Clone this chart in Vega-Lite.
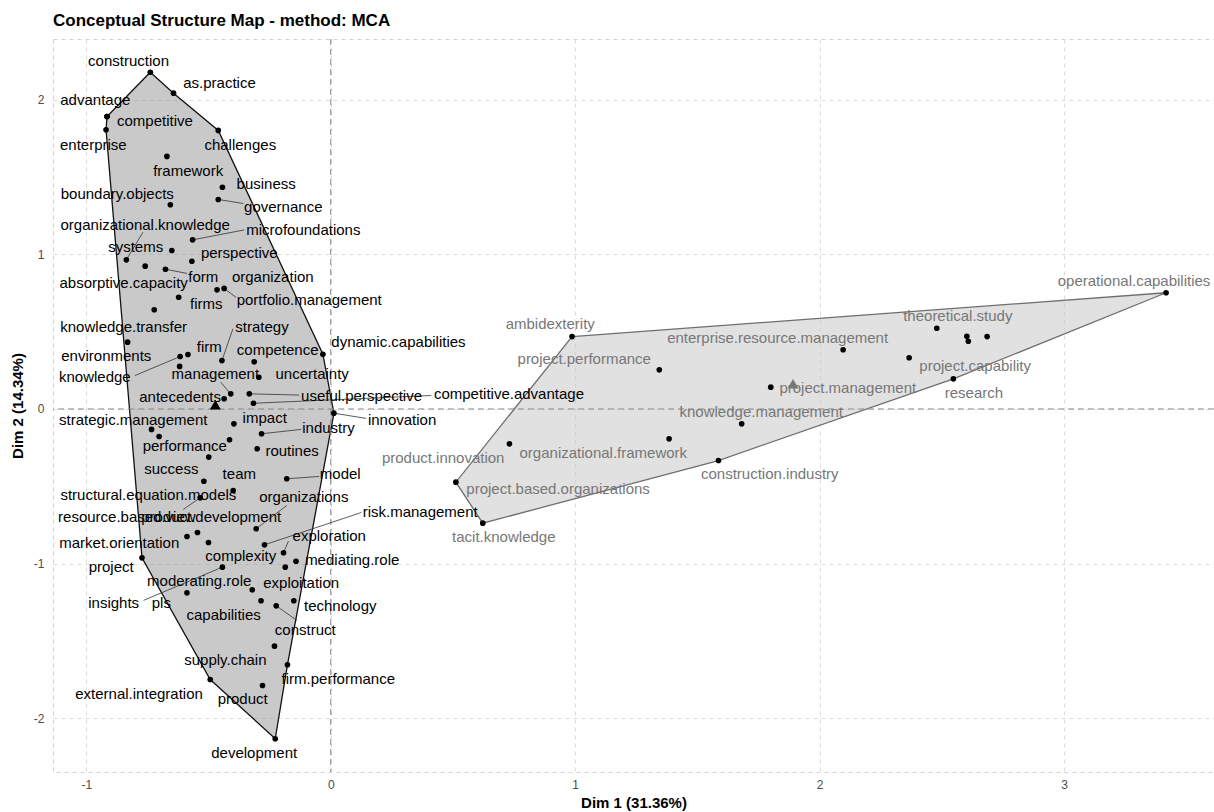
{
  "$schema": "https://vega.github.io/schema/vega-lite/v6.json",
  "autosize": "none",
  "padding": {"left": 53, "top": 39, "right": 0, "bottom": 40},
  "width": 1161,
  "height": 733,
  "background": "white",
  "title": {"text": "Conceptual Structure Map - method: MCA", "anchor": "start", "frame": "group", "fontSize": 17, "fontWeight": "bold", "color": "#000000", "font": "Liberation Sans", "offset": 9},
  "config": {
    "font": "Liberation Sans",
    "view": {"stroke": "#d4d4d4", "strokeDash": [4, 4], "strokeWidth": 1},
    "axis": {"domain": false, "ticks": false, "grid": true, "gridColor": "#dcdcdc", "gridDash": [4, 4], "gridWidth": 1, "labelFont": "Liberation Sans", "labelFontSize": 12, "labelColor": "#4d4d4d", "titleFont": "Liberation Sans", "titleFontSize": 15, "titleFontWeight": "bold", "titleColor": "#000000"},
    "axisX": {"labelPadding": 7, "titlePadding": 5},
    "axisY": {"labelPadding": 9, "titlePadding": 8}
  },
  "datasets": {
    "words": [
      {"w":"construction","c":1,"x":-0.738,"y":2.176,"lx":-0.827,"ly":2.252},
      {"w":"as.practice","c":1,"x":-0.643,"y":2.041,"lx":-0.455,"ly":2.105},
      {"w":"advantage","c":1,"x":-0.915,"y":1.890,"lx":-0.963,"ly":1.998},
      {"w":"competitive","c":1,"x":-0.915,"y":1.890,"lx":-0.719,"ly":1.858},
      {"w":"enterprise","c":1,"x":-0.919,"y":1.804,"lx":-0.971,"ly":1.707},
      {"w":"challenges","c":1,"x":-0.460,"y":1.800,"lx":-0.370,"ly":1.707},
      {"w":"framework","c":1,"x":-0.670,"y":1.632,"lx":-0.583,"ly":1.541},
      {"w":"business","c":1,"x":-0.443,"y":1.433,"lx":-0.264,"ly":1.451},
      {"w":"governance","c":1,"x":-0.460,"y":1.354,"lx":-0.194,"ly":1.304,"sx":-0.358,"sy":1.328},
      {"w":"boundary.objects","c":1,"x":-0.656,"y":1.320,"lx":-0.873,"ly":1.391},
      {"w":"microfoundations","c":1,"x":-0.565,"y":1.093,"lx":-0.112,"ly":1.158,"sx":-0.354,"sy":1.157},
      {"w":"systems","c":1,"x":-0.650,"y":1.024,"lx":-0.798,"ly":1.046},
      {"w":"organizational.knowledge","c":1,"x":-0.836,"y":0.964,"lx":-0.759,"ly":1.186,"sx":-0.768,"sy":1.142},
      {"w":"perspective","c":1,"x":-0.568,"y":0.955,"lx":-0.374,"ly":1.009},
      {"w":"absorptive.capacity","c":1,"x":-0.759,"y":0.923,"lx":-0.847,"ly":0.813},
      {"w":"form","c":1,"x":-0.676,"y":0.903,"lx":-0.521,"ly":0.856,"sx":-0.587,"sy":0.876},
      {"w":"organization","c":1,"x":-0.465,"y":0.770,"lx":-0.237,"ly":0.856},
      {"w":"portfolio.management","c":1,"x":-0.436,"y":0.779,"lx":-0.088,"ly":0.706,"sx":-0.387,"sy":0.721},
      {"w":"firms","c":1,"x":-0.622,"y":0.722,"lx":-0.509,"ly":0.680},
      {"w":"knowledge.transfer","c":1,"x":-0.722,"y":0.641,"lx":-0.847,"ly":0.529},
      {"w":"environments","c":1,"x":-0.831,"y":0.432,"lx":-0.918,"ly":0.344},
      {"w":"knowledge","c":1,"x":-0.616,"y":0.339,"lx":-0.965,"ly":0.205,"sx":-0.801,"sy":0.216},
      {"w":"firm","c":1,"x":-0.584,"y":0.352,"lx":-0.497,"ly":0.399},
      {"w":"strategy","c":1,"x":-0.445,"y":0.313,"lx":-0.281,"ly":0.533,"sx":-0.400,"sy":0.518},
      {"w":"competence","c":1,"x":-0.313,"y":0.305,"lx":-0.217,"ly":0.384},
      {"w":"dynamic.capabilities","c":1,"x":-0.032,"y":0.354,"lx":0.277,"ly":0.432},
      {"w":null,"c":1,"x":-0.618,"y":0.275},
      {"w":"uncertainty","c":1,"x":-0.294,"y":0.205,"lx":-0.076,"ly":0.229},
      {"w":"management","c":1,"x":-0.409,"y":0.098,"lx":-0.472,"ly":0.223,"sx":-0.450,"sy":0.173},
      {"w":"antecedents","c":1,"x":-0.436,"y":0.066,"lx":-0.616,"ly":0.076},
      {"w":"useful.perspective","c":1,"x":-0.333,"y":0.098,"lx":0.126,"ly":0.087,"sx":-0.129,"sy":0.090},
      {"w":"competitive.advantage","c":1,"x":-0.316,"y":0.037,"lx":0.729,"ly":0.094,"sx":0.411,"sy":0.087},
      {"w":"innovation","c":1,"x":0.013,"y":-0.027,"lx":0.292,"ly":-0.068,"sx":0.145,"sy":-0.061},
      {"w":"strategic.management","c":1,"x":-0.733,"y":-0.132,"lx":-0.808,"ly":-0.074},
      {"w":null,"c":1,"x":-0.702,"y":-0.178},
      {"w":"impact","c":1,"x":-0.396,"y":-0.096,"lx":-0.270,"ly":-0.057},
      {"w":"industry","c":1,"x":-0.283,"y":-0.160,"lx":-0.009,"ly":-0.124,"sx":-0.121,"sy":-0.132},
      {"w":"performance","c":1,"x":-0.414,"y":-0.199,"lx":-0.597,"ly":-0.236},
      {"w":"routines","c":1,"x":-0.301,"y":-0.257,"lx":-0.158,"ly":-0.273},
      {"w":"success","c":1,"x":-0.499,"y":-0.311,"lx":-0.652,"ly":-0.386},
      {"w":"structural.equation.models","c":1,"x":-0.519,"y":-0.467,"lx":-0.746,"ly":-0.559},
      {"w":"team","c":1,"x":-0.399,"y":-0.527,"lx":-0.374,"ly":-0.423},
      {"w":"model","c":1,"x":-0.180,"y":-0.451,"lx":0.039,"ly":-0.423,"sx":-0.047,"sy":-0.436},
      {"w":"resource.based.view","c":1,"x":-0.534,"y":-0.574,"lx":-0.834,"ly":-0.701,"sx":-0.603,"sy":-0.649},
      {"w":"organizations","c":1,"x":-0.305,"y":-0.774,"lx":-0.110,"ly":-0.570,"sx":-0.180,"sy":-0.624},
      {"w":"market.orientation","c":1,"x":-0.588,"y":-0.824,"lx":-0.865,"ly":-0.867},
      {"w":"product.development","c":1,"x":-0.545,"y":-0.798,"lx":-0.489,"ly":-0.701},
      {"w":"complexity","c":1,"x":-0.500,"y":-0.863,"lx":-0.368,"ly":-0.953},
      {"w":"risk.management","c":1,"x":-0.271,"y":-0.878,"lx":0.366,"ly":-0.667,"sx":0.125,"sy":-0.669},
      {"w":"exploration","c":1,"x":-0.193,"y":-0.929,"lx":-0.006,"ly":-0.824,"sx":-0.173,"sy":-0.854},
      {"w":"mediating.role","c":1,"x":-0.142,"y":-0.984,"lx":0.088,"ly":-0.975},
      {"w":"exploitation","c":1,"x":-0.186,"y":-1.022,"lx":-0.121,"ly":-1.126},
      {"w":"project","c":1,"x":-0.772,"y":-0.962,"lx":-0.898,"ly":-1.018},
      {"w":"insights","c":1,"x":-0.443,"y":-1.022,"lx":-0.888,"ly":-1.252,"sx":-0.766,"sy":-1.237},
      {"w":"pls","c":1,"x":-0.588,"y":-1.188,"lx":-0.693,"ly":-1.252},
      {"w":"moderating.role","c":1,"x":-0.321,"y":-1.168,"lx":-0.538,"ly":-1.113},
      {"w":"capabilities","c":1,"x":-0.285,"y":-1.239,"lx":-0.438,"ly":-1.334},
      {"w":"construct","c":1,"x":-0.223,"y":-1.272,"lx":-0.104,"ly":-1.427,"sx":-0.138,"sy":-1.367},
      {"w":"technology","c":1,"x":-0.151,"y":-1.239,"lx":0.039,"ly":-1.276},
      {"w":"supply.chain","c":1,"x":-0.230,"y":-1.533,"lx":-0.431,"ly":-1.621},
      {"w":"firm.performance","c":1,"x":-0.177,"y":-1.653,"lx":0.031,"ly":-1.743},
      {"w":"external.integration","c":1,"x":-0.493,"y":-1.748,"lx":-0.784,"ly":-1.840},
      {"w":"product","c":1,"x":-0.279,"y":-1.787,"lx":-0.360,"ly":-1.877},
      {"w":"development","c":1,"x":-0.227,"y":-2.131,"lx":-0.313,"ly":-2.222},
      {"w":"ambidexterity","c":2,"x":0.987,"y":0.468,"lx":0.898,"ly":0.546},
      {"w":"project.performance","c":2,"x":1.344,"y":0.253,"lx":1.037,"ly":0.324},
      {"w":"product.innovation","c":2,"x":0.731,"y":-0.225,"lx":0.460,"ly":-0.315},
      {"w":"organizational.framework","c":2,"x":1.384,"y":-0.193,"lx":1.115,"ly":-0.286},
      {"w":"project.based.organizations","c":2,"x":0.512,"y":-0.473,"lx":0.930,"ly":-0.516},
      {"w":"tacit.knowledge","c":2,"x":0.622,"y":-0.738,"lx":0.708,"ly":-0.828},
      {"w":"project.management","c":2,"x":1.800,"y":0.141,"lx":2.115,"ly":0.134},
      {"w":"knowledge.management","c":2,"x":1.681,"y":-0.096,"lx":1.761,"ly":-0.021},
      {"w":"construction.industry","c":2,"x":1.586,"y":-0.333,"lx":1.796,"ly":-0.419},
      {"w":"enterprise.resource.management","c":2,"x":2.096,"y":0.383,"lx":1.828,"ly":0.458},
      {"w":"project.capability","c":2,"x":2.366,"y":0.331,"lx":2.636,"ly":0.275},
      {"w":"research","c":2,"x":2.547,"y":0.195,"lx":2.631,"ly":0.105},
      {"w":"theoretical.study","c":2,"x":2.479,"y":0.522,"lx":2.565,"ly":0.598},
      {"w":null,"c":2,"x":2.602,"y":0.470},
      {"w":null,"c":2,"x":2.608,"y":0.438},
      {"w":null,"c":2,"x":2.685,"y":0.468},
      {"w":"operational.capabilities","c":2,"x":3.417,"y":0.751,"lx":3.286,"ly":0.826}
    ],
    "hulls": [
      {"c":1,"o":1,"x":-0.738,"y":2.176},
      {"c":1,"o":2,"x":-0.643,"y":2.041},
      {"c":1,"o":3,"x":-0.460,"y":1.800},
      {"c":1,"o":4,"x":-0.032,"y":0.354},
      {"c":1,"o":5,"x":0.013,"y":-0.027},
      {"c":1,"o":6,"x":-0.177,"y":-1.653},
      {"c":1,"o":7,"x":-0.227,"y":-2.131},
      {"c":1,"o":8,"x":-0.493,"y":-1.748},
      {"c":1,"o":9,"x":-0.772,"y":-0.962},
      {"c":1,"o":10,"x":-0.919,"y":1.804},
      {"c":1,"o":11,"x":-0.915,"y":1.890},
      {"c":2,"o":1,"x":0.987,"y":0.468},
      {"c":2,"o":2,"x":3.417,"y":0.751},
      {"c":2,"o":3,"x":2.547,"y":0.195},
      {"c":2,"o":4,"x":1.586,"y":-0.333},
      {"c":2,"o":5,"x":0.622,"y":-0.738},
      {"c":2,"o":6,"x":0.512,"y":-0.473}
    ],
    "centroids": [
      {"c":1,"x":-0.472,"y":0.027},
      {"c":2,"x":1.891,"y":0.163}
    ]
  },
  "layer": [
    {
      "data": {"name": "hulls"},
      "transform": [{"filter": "datum.c == 1"}],
      "mark": {"type": "line", "interpolate": "linear-closed", "fill": "#939393", "fillOpacity": 0.5, "stroke": "#111111", "strokeWidth": 1.3},
      "encoding": {
        "x": {"field": "x", "type": "quantitative", "title": "Dim 1 (31.36%)", "scale": {"domain": [-1.136, 3.613], "nice": false, "zero": false}, "axis": {"values": [-1, 0, 1, 2, 3], "labelExpr": "'' + datum.value"}},
        "y": {"field": "y", "type": "quantitative", "title": "Dim 2 (14.34%)", "scale": {"domain": [-2.346, 2.391], "nice": false, "zero": false}, "axis": {"values": [-2, -1, 0, 1, 2], "labelExpr": "'' + datum.value"}},
        "order": {"field": "o", "type": "quantitative"}
      }
    },
    {
      "data": {"name": "hulls"},
      "transform": [{"filter": "datum.c == 2"}],
      "mark": {"type": "line", "interpolate": "linear-closed", "fill": "#c4c4c4", "fillOpacity": 0.5, "stroke": "#6e6e6e", "strokeWidth": 1.3},
      "encoding": {
        "x": {"field": "x", "type": "quantitative", "title": "Dim 1 (31.36%)"},
        "y": {"field": "y", "type": "quantitative", "title": "Dim 2 (14.34%)"},
        "order": {"field": "o", "type": "quantitative"}
      }
    },
    {
      "data": {"values": [{"v": 0}]},
      "mark": {"type": "rule", "stroke": "#8a8a8a", "strokeDash": [6, 4], "strokeWidth": 1},
      "encoding": {"x": {"field": "v", "type": "quantitative", "title": "Dim 1 (31.36%)"}}
    },
    {
      "data": {"values": [{"v": 0}]},
      "mark": {"type": "rule", "stroke": "#8a8a8a", "strokeDash": [6, 4], "strokeWidth": 1},
      "encoding": {"y": {"field": "v", "type": "quantitative", "title": "Dim 2 (14.34%)"}}
    },
    {
      "data": {"name": "words"},
      "transform": [{"filter": "isValid(datum.sx)"}],
      "mark": {"type": "rule", "stroke": "#333333", "strokeWidth": 0.8},
      "encoding": {
        "x": {"field": "x", "type": "quantitative", "title": "Dim 1 (31.36%)"},
        "y": {"field": "y", "type": "quantitative", "title": "Dim 2 (14.34%)"},
        "x2": {"field": "sx"},
        "y2": {"field": "sy"}
      }
    },
    {
      "data": {"name": "words"},
      "mark": {"type": "circle", "size": 32, "color": "#000000", "opacity": 1},
      "encoding": {
        "x": {"field": "x", "type": "quantitative", "title": "Dim 1 (31.36%)"},
        "y": {"field": "y", "type": "quantitative", "title": "Dim 2 (14.34%)"}
      }
    },
    {
      "data": {"name": "centroids"},
      "mark": {"type": "point", "shape": "triangle-up", "filled": true, "size": 120, "opacity": 1},
      "encoding": {
        "x": {"field": "x", "type": "quantitative", "title": "Dim 1 (31.36%)"},
        "y": {"field": "y", "type": "quantitative", "title": "Dim 2 (14.34%)"},
        "color": {"field": "c", "type": "nominal", "scale": {"domain": [1, 2], "range": ["#000000", "#777777"]}, "legend": null}
      }
    },
    {
      "data": {"name": "words"},
      "transform": [{"filter": "isValid(datum.w)"}],
      "mark": {"type": "text", "fontSize": 15, "font": "Liberation Sans", "align": "center", "baseline": "middle"},
      "encoding": {
        "x": {"field": "lx", "type": "quantitative", "title": "Dim 1 (31.36%)"},
        "y": {"field": "ly", "type": "quantitative", "title": "Dim 2 (14.34%)"},
        "text": {"field": "w"},
        "color": {"field": "c", "type": "nominal", "scale": {"domain": [1, 2], "range": ["#111111", "#6e6e6e"]}, "legend": null}
      }
    }
  ]
}
